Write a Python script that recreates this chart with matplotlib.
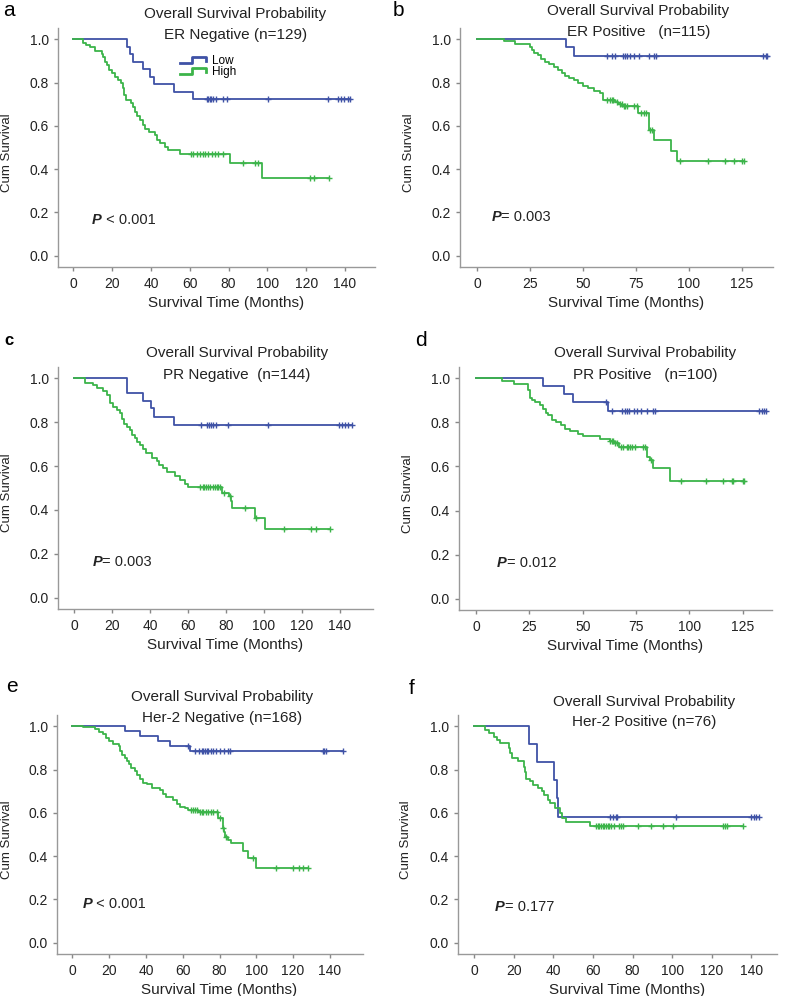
import numpy as np
import matplotlib
matplotlib.use('Agg')
import matplotlib.pyplot as plt
from matplotlib.lines import Line2D
from matplotlib.legend_handler import HandlerBase

plt.rcParams['font.family'] = ['Liberation Sans', 'DejaVu Sans']

BLUE = '#3f52a6'
GREEN = '#3cb44a'
TXT = '#222222'

# ---- a: ER negative ----
a_low_t = [27.5, 29.2, 30.9, 35.7, 39.5, 41.7, 51.9, 61.5]
a_low_s = [0.965, 0.931, 0.896, 0.862, 0.827, 0.793, 0.758, 0.724]
a_low_cens = [68.7, 69.5, 70.3, 71.2, 72, 73.5, 77.3, 79, 100.5, 131.4, 136.4, 138, 139.7, 141.4, 142.5]
a_high_t = [5, 6.5, 8.6, 11.2, 14.6, 15.5, 16.3, 17.2, 18.6, 19.8, 21.5, 23.2, 24.6, 25.4, 26.1, 27.1,
            29.5, 30.6, 31.8, 33, 34.4, 35.7, 36.9, 39.2, 42.1, 43.3, 44.7, 47.2, 49, 55, 80.8, 97.5]
a_high_s = [0.984, 0.972, 0.962, 0.946, 0.934, 0.918, 0.896, 0.880, 0.857, 0.842, 0.826, 0.811, 0.796,
            0.773, 0.742, 0.719, 0.707, 0.685, 0.665, 0.645, 0.627, 0.604, 0.584, 0.573, 0.558, 0.535,
            0.519, 0.501, 0.488, 0.470, 0.430, 0.358]
a_high_cens = [60.5, 61.9, 63.6, 65.3, 66.7, 67.9, 69.6, 71.3, 73.1, 74.8, 77.3, 87.3, 93.6, 95.3, 122, 124, 131.9]

# ---- b: ER positive ----
b_low_t = [41.9, 45.6]
b_low_s = [0.962, 0.923]
b_low_cens = [61.3, 63.4, 65.2, 68.7, 70, 70.8, 72.3, 73.9, 76.3, 81, 83.4, 84.2, 134.9, 136.2, 137]
b_high_t = [12.5, 18, 25, 26, 27, 28.5, 30, 32, 34, 36, 38, 40, 41.5, 43.5, 45.5, 47.5, 50, 52.5, 55, 58,
            59.5, 65, 66.5, 68.5, 76, 81, 83.5, 91.5, 94.5]
b_high_s = [0.99, 0.98, 0.965, 0.951, 0.938, 0.928, 0.908, 0.897, 0.885, 0.874, 0.858, 0.846, 0.831, 0.82,
            0.812, 0.797, 0.785, 0.774, 0.763, 0.751, 0.72, 0.71, 0.70, 0.69, 0.658, 0.58, 0.535, 0.485, 0.437]
b_high_cens = [61.2, 62.7, 63.5, 64.3, 65.9, 67.5, 68.3, 69.1, 69.9, 70.6, 73.8, 75.3, 77.2, 78.8, 79.6,
               81.7, 82.3, 95.8, 109.2, 117.1, 121.1, 125, 126.1]

# ---- c: PR negative ----
c_low_t = [27.7, 28.1, 36.5, 40.4, 42.1, 52.6]
c_low_s = [0.965, 0.932, 0.897, 0.863, 0.822, 0.787]
c_low_cens = [66.7, 70.2, 71.2, 71.9, 73, 74.7, 81.2, 102.3, 139.5, 140.9, 142.6, 144.4, 146.1]
c_high_t = [5.8, 10.2, 12.3, 15.4, 17.2, 18.9, 20.4, 22.5, 24.2, 25.1, 26.3, 27.7, 29.5, 30.4, 32.1, 33.3,
            34.7, 36.5, 37.9, 40.9, 43.5, 44.9, 47, 49.1, 53.2, 55.8, 58.4, 60.2, 78, 81.7, 82.5, 83, 95.5, 100.5]
c_high_s = [0.980, 0.969, 0.954, 0.943, 0.924, 0.886, 0.870, 0.855, 0.843, 0.817, 0.794, 0.776, 0.764,
            0.741, 0.726, 0.711, 0.695, 0.676, 0.658, 0.639, 0.624, 0.604, 0.589, 0.574, 0.554, 0.536,
            0.517, 0.505, 0.478, 0.462, 0.44, 0.41, 0.365, 0.315]
c_high_cens = [66.3, 67.7, 68.4, 69.5, 70.7, 71.6, 73.3, 74.2, 75.1, 76, 76.8, 79, 82.2, 90, 95.8, 110.5,
               125, 127.4, 134.7]

# ---- d: PR positive ----
d_low_t = [31.3, 41.3, 45.3, 61.8]
d_low_s = [0.967, 0.928, 0.893, 0.852]
d_low_cens = [61.0, 63.6, 68.3, 69.8, 70.9, 71.9, 73.8, 75.6, 77.2, 80.3, 83.1, 83.9, 132.8, 133.9, 135, 135.9]
d_high_t = [12, 17.8, 24.5, 25.3, 26.1, 27.7, 30, 31.3, 32.8, 33.9, 35.5, 37.5, 39.7, 41.7, 44, 48, 50.3,
            58.1, 62.8, 64.5, 67.2, 80, 81.5, 82.8, 90.9]
d_high_s = [0.99, 0.974, 0.947, 0.913, 0.903, 0.893, 0.878, 0.863, 0.843, 0.833, 0.813, 0.802, 0.787,
            0.772, 0.761, 0.749, 0.737, 0.726, 0.716, 0.706, 0.688, 0.645, 0.63, 0.594, 0.533]
d_high_cens = [63, 63.6, 64.4, 65.2, 66, 67.8, 69, 70.6, 71.4, 72.2, 73, 74.5, 78.4, 79.2, 82.2, 95.9,
               107.8, 115.9, 119.8, 120.6, 125, 125.6]

# ---- e: Her-2 negative ----
e_low_t = [28.5, 36.6, 46.6, 53.3, 63.8]
e_low_s = [0.977, 0.954, 0.931, 0.908, 0.885]
e_low_cens = [62.9, 66.6, 69, 70.2, 71.1, 72, 72.9, 73.8, 75.1, 76.5, 78.3, 80.1, 82.3, 84.6, 85.9,
              136, 136.9, 137.8, 147.3]
e_high_t = [6, 12, 14.5, 16.7, 18.5, 19.9, 22.1, 25.4, 26.1, 27.2, 28.5, 29.4, 30.8, 32.1, 33.9, 35.2, 37,
            38.4, 40.6, 43.5, 47.5, 49.3, 51.1, 54.7, 56.6, 58.7, 61.1, 62.9, 68.3, 79.2, 81.8, 82.5, 83.2,
            84.5, 86, 93, 95.6, 100]
e_high_s = [0.995, 0.986, 0.975, 0.963, 0.948, 0.932, 0.920, 0.909, 0.886, 0.868, 0.852, 0.840, 0.825,
            0.809, 0.794, 0.775, 0.755, 0.740, 0.732, 0.717, 0.705, 0.689, 0.674, 0.658, 0.643, 0.628,
            0.622, 0.612, 0.602, 0.578, 0.53, 0.51, 0.49, 0.475, 0.46, 0.426, 0.392, 0.343]
e_high_cens = [64.2, 65.7, 66.6, 67.5, 69.3, 70.2, 71.1, 72.5, 73.8, 75.1, 76.5, 78.7, 80.2, 82, 83.6,
               98.3, 110.6, 120, 123.1, 125.5, 128.2]

# ---- f: Her-2 positive ----
f_low_t = [27.5, 31.5, 40.5, 41.8, 42.5]
f_low_s = [0.917, 0.833, 0.75, 0.667, 0.583]
f_low_cens = [68.8, 70, 71.4, 72.2, 102.2, 140, 141.2, 142.5, 143.7]
f_high_t = [5.6, 7.3, 9.8, 11.5, 13.1, 17.4, 18.2, 19.0, 21.9, 24.9, 25.8, 26.3, 28.3, 29.7, 32, 34.2,
            35.4, 37.1, 38.4, 40.9, 43.1, 44.3, 46.5, 58.6]
f_high_s = [0.983, 0.968, 0.952, 0.937, 0.922, 0.898, 0.875, 0.855, 0.840, 0.814, 0.791, 0.757, 0.745,
            0.729, 0.714, 0.702, 0.683, 0.660, 0.645, 0.622, 0.598, 0.575, 0.560, 0.537]
f_high_cens = [61.5, 62.4, 63.2, 64.1, 65, 65.8, 66.6, 67.5, 68.3, 69.2, 70.8, 73.4, 74.2, 75.1, 82.7,
               89.5, 95.4, 100.2, 125.9, 126.8, 127.6, 135.6]


class StepHandler(HandlerBase):
    # little step-shaped legend glyph like the SPSS output
    def create_artists(self, legend, orig_handle, xdescent, ydescent, width, height, fontsize, trans):
        xs = np.array([0, 0.45, 0.45, 1.0, 1.0]) * width - xdescent
        ys = np.array([0.2, 0.2, 0.85, 0.85, 0.35]) * height - ydescent
        return [Line2D(xs, ys, color=orig_handle.get_color(), lw=2.0, transform=trans)]


def km_curve(ax, t, s, cens, color):
    end = max(max(cens), t[-1])
    tt = np.concatenate([[0], t, [end]])
    ss = np.concatenate([[1.0], s, [s[-1]]])
    ax.step(tt, ss, where='post', color=color, lw=1.3)
    idx = np.searchsorted(t, cens, side='right')
    cy = np.concatenate([[1.0], s])[idx]
    ax.plot(cens, cy, '+', color=color, ms=4, mew=1.0)


def setup(ax, group, xticks, xlim, ptxt, ppos, tpos):
    ax.set_xlim(xlim)
    ax.set_ylim(-0.052, 1.052)
    ax.set_xticks(xticks)
    ax.set_xticklabels([str(v) for v in xticks])
    ax.set_yticks(np.arange(0, 1.01, 0.2))
    ax.set_yticklabels(['%.1f' % v for v in np.arange(0, 1.01, 0.2)])
    for sp in ['top', 'right']:
        ax.spines[sp].set_visible(False)
    for sp in ['left', 'bottom']:
        ax.spines[sp].set_color('#999999')
        ax.spines[sp].set_linewidth(1.0)
    ax.tick_params(direction='out', length=3, width=1, colors='#888888', labelcolor=TXT, labelsize=10)
    ax.tick_params(axis='x', pad=4)
    ax.set_xlabel('Survival Time (Months)', fontsize=11, color=TXT)
    ax.set_ylabel('Cum Survival', fontsize=9.5, color=TXT)
    ax.xaxis.set_label_coords(0.53, -0.12)
    ax.yaxis.set_label_coords(-0.143, 0.48)
    ax.text(tpos[0], tpos[1], 'Overall Survival Probability', transform=ax.transAxes,
            ha='center', va='center', fontsize=11, color=TXT)
    ax.text(tpos[0], tpos[2], group, transform=ax.transAxes,
            ha='center', va='center', fontsize=11, color=TXT)
    p = ax.text(ppos[0], ppos[1], 'P', fontweight='bold', fontstyle='italic', fontsize=10.5,
                va='center', color=TXT)
    ax.annotate(ptxt, xy=(1, 0.5), xycoords=p, va='center', fontsize=10.5, color=TXT)


fig = plt.figure(figsize=(7.87, 9.96), dpi=100)
W, H = 787.0, 996.0


def add_ax(left, right, top, bottom):
    return fig.add_axes([left / W, 1 - bottom / H, (right - left) / W, (bottom - top) / H])


t140 = [0, 20, 40, 60, 80, 100, 120, 140]
t125 = [0, 25, 50, 75, 100, 125]

ax = add_ax(58, 375, 28, 267)
km_curve(ax, a_low_t, a_low_s, a_low_cens, BLUE)
km_curve(ax, a_high_t, a_high_s, a_high_cens, GREEN)
setup(ax, 'ER Negative (n=129)', t140, (-7.9, 155.5), ' < 0.001', (9.5, 0.166), (0.56, 1.058, 0.971))
h1 = Line2D([], [], color=BLUE)
h2 = Line2D([], [], color=GREEN)
ax.legend([h1, h2], ['Low', 'High'], handler_map={Line2D: StepHandler()}, frameon=False,
          loc='upper left', bbox_to_anchor=(0.36, 0.92), fontsize=8.5, handlelength=2.2,
          handletextpad=0.5, labelspacing=-0.1, borderpad=0.2)

ax = add_ax(460, 773, 28, 267)
km_curve(ax, b_low_t, b_low_s, b_low_cens, BLUE)
km_curve(ax, b_high_t, b_high_s, b_high_cens, GREEN)
setup(ax, 'ER Positive   (n=115)', t125, (-8.2, 139.7), '= 0.003', (6.8, 0.18), (0.57, 1.07, 0.985))

ax = add_ax(58, 373, 367, 609)
km_curve(ax, c_low_t, c_low_s, c_low_cens, BLUE)
km_curve(ax, c_high_t, c_high_s, c_high_cens, GREEN)
setup(ax, 'PR Negative  (n=144)', t140, (-8.4, 157.4), '= 0.003', (9.8, 0.163), (0.567, 1.057, 0.967))

ax = add_ax(459, 772, 367, 610)
km_curve(ax, d_low_t, d_low_s, d_low_cens, BLUE)
km_curve(ax, d_high_t, d_high_s, d_high_cens, GREEN)
setup(ax, 'PR Positive   (n=100)', t125, (-8.0, 138.7), '= 0.012', (9.7, 0.163), (0.594, 1.057, 0.967))

ax = add_ax(57, 363, 715, 954)
km_curve(ax, e_low_t, e_low_s, e_low_cens, BLUE)
km_curve(ax, e_high_t, e_high_s, e_high_cens, GREEN)
setup(ax, 'Her-2 Negative (n=168)', t140, (-8.4, 158.0), ' < 0.001', (5.4, 0.18), (0.538, 1.077, 0.986))

ax = add_ax(458, 777, 715, 954)
km_curve(ax, f_low_t, f_low_s, f_low_cens, BLUE)
km_curve(ax, f_high_t, f_high_s, f_high_cens, GREEN)
setup(ax, 'Her-2 Positive (n=76)', t140, (-8.2, 153.0), '= 0.177', (10.6, 0.163), (0.584, 1.056, 0.972))

# panel letters
letters = ['a', 'b', 'c', 'd', 'e', 'f']
letter_xy = [(9, 10), (398, 10), (9, 340), (421, 340), (12, 686), (412, 688)]
for lab, (x, y) in zip(letters, letter_xy):
    fig.text(x / W, 1 - y / H, lab, fontsize=12 if lab == 'c' else 15,
             fontweight='bold' if lab == 'c' else 'normal', ha='center', va='center', color='black')

fig.savefig('out.png', dpi=100)
